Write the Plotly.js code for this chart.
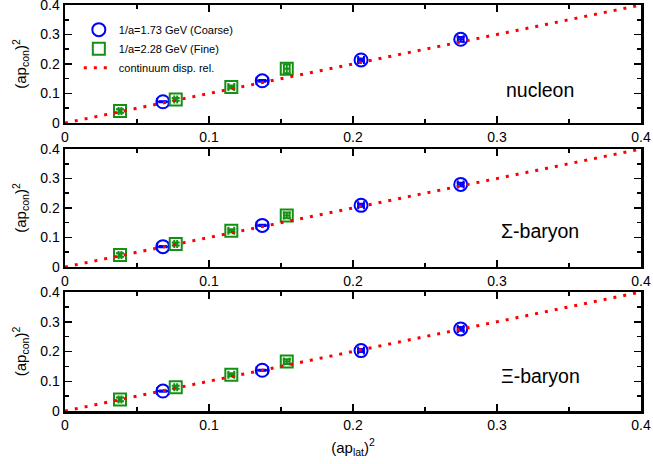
<!DOCTYPE html>
<html>
<head>
<meta charset="utf-8">
<script src="https://cdn.plot.ly/plotly-3.0.1.min.js"></script>
<style>html,body{margin:0;padding:0;background:#fff}#chart{width:653px;height:464px}</style>
</head>
<body>
<div id="chart"></div>
<script>
// ---- data ----
const panelNames = ["nucleon", "\u03A3-baryon", "\u039E-baryon"];

// Coarse lattice, 1/a = 1.73 GeV
const coarseX = [0.068, 0.137, 0.2056, 0.2748];
const coarseXerr = [0.004, 0.004, 0.002, 0.002];
const nucCoarseY = [0.072, 0.143, 0.2136, 0.2837];
const nucCoarseYerr = [0.002, 0.003, 0.005, 0.008];
const sigCoarseY = [0.069, 0.141, 0.209, 0.280];
const sigCoarseYerr = [0.002, 0.002, 0.005, 0.006];
const xiCoarseY = [0.067, 0.137, 0.203, 0.276];
const xiCoarseYerr = [0.002, 0.002, 0.005, 0.006];

// Fine lattice, 1/a = 2.28 GeV
const fineX = [0.0382, 0.0769, 0.1155, 0.154];
const fineXerr = [0.001, 0.001, 0.002, 0.002];
const nucFineY = [0.0407, 0.080, 0.122, 0.184];
const nucFineYerr = [0.006, 0.005, 0.005, 0.015];
const sigFineY = [0.0407, 0.078, 0.123, 0.175];
const sigFineYerr = [0.006, 0.005, 0.005, 0.010];
const xiFineY = [0.039, 0.080, 0.122, 0.166];
const xiFineYerr = [0.006, 0.005, 0.005, 0.008];

// continuum dispersion relation (y = x)
const contX = [0, 0.4];
const contY = [0, 0.4];

const coarseYs = [nucCoarseY, sigCoarseY, xiCoarseY];
const coarseYerrs = [nucCoarseYerr, sigCoarseYerr, xiCoarseYerr];
const fineYs = [nucFineY, sigFineY, xiFineY];
const fineYerrs = [nucFineYerr, sigFineYerr, xiFineYerr];

// ---- styles ----
const BLUE = "rgb(0,0,255)";
const GREEN = "rgb(20,145,20)";
const RED = "rgb(255,0,0)";
const FONT = "Liberation Sans, Arial, sans-serif";

const traces = [];
for (let i = 0; i < 3; i++) {
  const sfx = i === 0 ? "" : String(i + 1);
  traces.push({
    x: coarseX, y: coarseYs[i], xaxis: "x" + sfx, yaxis: "y" + sfx,
    type: "scatter", mode: "markers", name: "1/a=1.73 GeV (Coarse)",
    showlegend: i === 0, legendgroup: "c",
    marker: {symbol: "circle-open", size: 13, color: BLUE, line: {width: 2, color: BLUE}},
    error_y: {type: "data", array: coarseYerrs[i], color: BLUE, thickness: 2, width: 4},
    error_x: {type: "data", array: coarseXerr, color: BLUE, thickness: 2, width: 4}
  });
  traces.push({
    x: fineX, y: fineYs[i], xaxis: "x" + sfx, yaxis: "y" + sfx,
    type: "scatter", mode: "markers", name: "1/a=2.28 GeV (Fine)",
    showlegend: i === 0, legendgroup: "f",
    marker: {symbol: "square-open", size: 12, color: GREEN, line: {width: 2, color: GREEN}},
    error_y: {type: "data", array: fineYerrs[i], color: GREEN, thickness: 2, width: 4},
    error_x: {type: "data", array: fineXerr, color: GREEN, thickness: 2, width: 4}
  });
  traces.push({
    x: contX, y: contY, xaxis: "x" + sfx, yaxis: "y" + sfx,
    type: "scatter", mode: "lines", name: "continuum disp. rel.",
    showlegend: i === 0, legendgroup: "l",
    line: {color: RED, width: 3, dash: "3px,7px"}
  });
}

function xAxis(anchor, withTitle) {
  const a = {
    anchor: anchor, domain: [0, 1], range: [0, 0.4], dtick: 0.1, tick0: 0,
    ticks: "inside", ticklen: 7, tickwidth: 1.5, tickcolor: "#000",
    showline: true, linewidth: 2.5, linecolor: "#000", mirror: "allticks",
    showgrid: false, zeroline: false, ticklabeloverflow: "allow",
    tickfont: {family: FONT, size: 14, color: "#000"},
    minor: {dtick: 0.05, ticks: "inside", ticklen: 4, tickwidth: 1.5, tickcolor: "#000", showgrid: false}
  };
  if (withTitle) a.title = {text: "(ap<sub>lat</sub>)<sup>2</sup>", font: {family: FONT, size: 15, color: "#000"}, standoff: 10};
  return a;
}
function yAxis(anchor, domain) {
  return {
    anchor: anchor, domain: domain, range: [0, 0.4], dtick: 0.1, tick0: 0,
    ticks: "inside", ticklen: 7, tickwidth: 1.5, tickcolor: "#000",
    showline: true, linewidth: 2.5, linecolor: "#000", mirror: "allticks",
    showgrid: false, zeroline: false, ticklabeloverflow: "allow",
    tickfont: {family: FONT, size: 14, color: "#000"},
    minor: {dtick: 0.05, ticks: "inside", ticklen: 4, tickwidth: 1.5, tickcolor: "#000", showgrid: false},
    title: {text: "(ap<sub>con</sub>)<sup>2</sup>", font: {family: FONT, size: 15, color: "#000"}, standoff: 10}
  };
}

const annY = [0.112, 0.123, 0.119];
const annotations = panelNames.map((t, i) => {
  const sfx = i === 0 ? "" : String(i + 1);
  return {text: t, x: 0.33, y: annY[i], xref: "x" + sfx, yref: "y" + sfx,
          showarrow: false, xanchor: "center", yanchor: "middle",
          font: {family: FONT, size: 19.5, color: "#000"}};
});

const layout = {
  width: 653, height: 464,
  margin: {l: 65, r: 12, t: 5, b: 53},
  paper_bgcolor: "#fff", plot_bgcolor: "#fff",
  showlegend: true,
  legend: {x: 0.024, y: 0.975, xanchor: "left", yanchor: "top",
           bgcolor: "rgba(0,0,0,0)", borderwidth: 0, tracegroupgap: 0,
           font: {family: FONT, size: 11, color: "#000"}},
  xaxis: xAxis("y", false),
  xaxis2: xAxis("y2", false),
  xaxis3: xAxis("y3", true),
  yaxis: yAxis("x", [0.7094, 1]),
  yaxis2: yAxis("x2", [0.3547, 0.6453]),
  yaxis3: yAxis("x3", [0, 0.2931]),
  annotations: annotations
};

Plotly.newPlot("chart", traces, layout, {displayModeBar: false, staticPlot: true});
</script>
</body>
</html>
